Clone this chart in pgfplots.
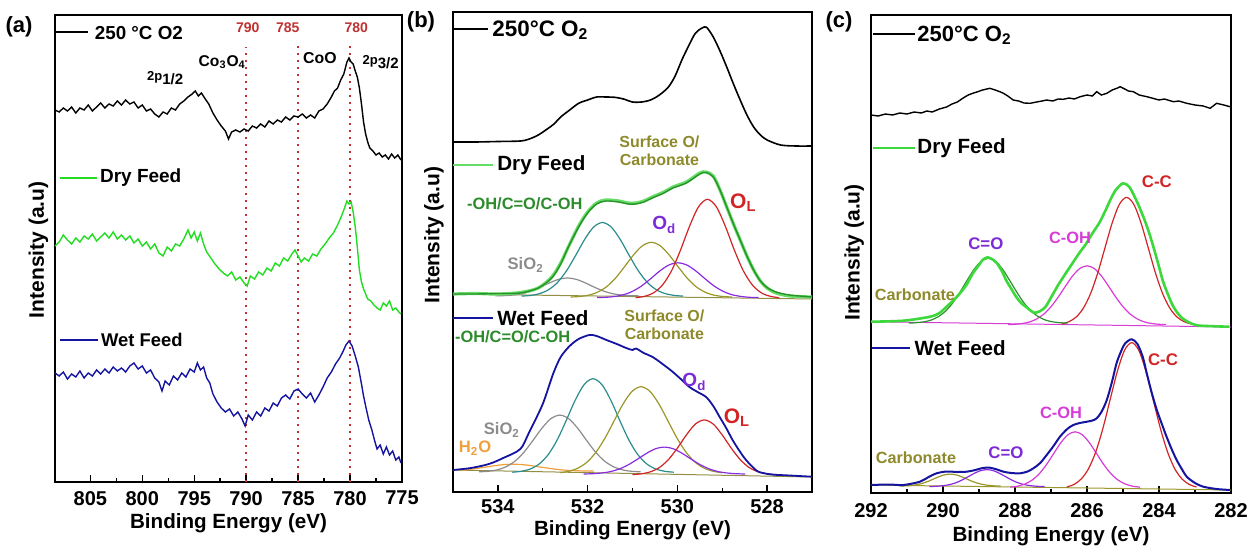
\documentclass[border=0pt]{standalone}
\usepackage{fontspec}
\setmainfont{Liberation Sans}
\usepackage{pgfplots}
\pgfplotsset{compat=1.18}

\definecolor{cgreen}{HTML}{22DD22}
\definecolor{cnavy}{HTML}{1414A0}
\definecolor{cteal}{HTML}{2A8C8C}
\definecolor{colive}{HTML}{9A962A}
\definecolor{cpurple}{HTML}{8A2BE2}
\definecolor{cred}{HTML}{D22424}
\definecolor{cgray}{HTML}{8C8C8C}
\definecolor{corange}{HTML}{EFA03C}
\definecolor{cdkgreen}{HTML}{2A922A}
\definecolor{cltgreen}{HTML}{66DD66}
\definecolor{cmagenta}{HTML}{D63CD6}
\definecolor{cdotred}{HTML}{C03030}
\definecolor{lolive}{HTML}{8E8A2C}
\definecolor{lgreen}{HTML}{2C8C2C}
\definecolor{lpurple}{HTML}{7B2BD8}
\definecolor{cbright}{HTML}{3CD83C}

\newcommand{\fs}[1]{\fontsize{#1}{#1}\selectfont}

\pgfplotsset{
  xps/.style={
    scale only axis, anchor=south west, x dir=reverse, ymin=0,
    ytick=\empty, clip=false, no marks,
    axis line style={line width=0.8pt},
    tick align=inside, xtick pos=left,
    major tick length=3.3pt, minor tick length=2pt, minor x tick num=1,
    every tick/.style={black, line width=0.7pt},
    ticklabel style={font=\bfseries\fs{10}},
    /pgf/number format/assume math mode=true,
    xlabel={Binding Energy (eV)}, ylabel={Intensity (a.u)},
    xlabel style={font=\bfseries\fs{10.3}, anchor=center},
    ylabel style={font=\bfseries\fs{10.5}, anchor=center},
  }
}

\begin{document}
\begin{tikzpicture}
\useasboundingbox (0,0) rectangle (624.5pt,-273pt);

% ---------------- (a) Co 2p ----------------
\begin{axis}[xps, at={(27.5pt,-241pt)}, width=173.5pt, height=233.5pt,
  xmin=775, xmax=808.4, ymax=467, xtick={775,780,...,805},
  xticklabel style={yshift=-1pt},
  xlabel style={at={(axis description cs:0.5,-0.088)}},
  ylabel style={at={(axis description cs:-0.0476,0.497)}}]
\addplot[cdotred, line width=0.9pt, dash pattern=on 0.9pt off 2.6pt] coordinates {(790,0)(790,435)};
\addplot[cdotred, line width=0.9pt, dash pattern=on 0.9pt off 2.6pt] coordinates {(785,0)(785,439)};
\addplot[cdotred, line width=0.9pt, dash pattern=on 0.9pt off 2.6pt] coordinates {(780,0)(780,436)};
\addplot[black, line width=0.7pt] coordinates {
(808.4,372)(808.0,370)(807.6,374)(807.2,371)(806.8,375)(806.4,369)(806.0,374)(805.6,372)(805.2,377)(804.8,371)
(804.4,375)(804.0,379)(803.6,374)(803.2,378)(802.8,376)(802.4,381)(802.0,377)(801.6,382)(801.2,378)(800.8,380)
(800.4,374)(800.0,377)(799.6,371)(799.2,373)(798.8,368)(798.4,365)(798.0,370)(797.6,368)(797.2,374)(796.8,372)
(796.4,378)(796.0,381)(795.6,385)(795.2,388)(794.9,391)(794.6,386)(794.3,389)(794.0,384)(793.6,378)(793.2,369)
(792.8,362)(792.4,356)(792.0,351)(791.7,343)(791.4,350)(791.0,352)(790.6,350)(790.2,353)(789.8,351)(789.4,356)
(789.0,354)(788.6,358)(788.2,355)(787.8,361)(787.4,358)(787.0,362)(786.6,360)(786.2,365)(785.8,362)(785.4,366)
(785.0,365)(784.6,368)(784.2,364)(783.8,367)(783.4,364)(783.0,371)(782.6,373)(782.2,378)(781.8,385)(781.5,391)
(781.2,394)(780.9,402)(780.6,408)(780.3,420)(780.1,424)(779.9,420)(779.7,418)(779.5,411)(779.3,405)(779.1,394)
(778.9,378)(778.7,360)(778.5,348)(778.3,340)(778.1,334)(777.8,331)(777.5,327)(777.2,329)(776.9,325)(776.6,327)
(776.3,323)(776.0,328)(775.7,324)(775.4,327)(775.1,322)};
\addplot[cgreen, line width=0.7pt] coordinates {
(808.4,236)(808.0,240)(807.6,247)(807.2,242)(806.8,238)(806.4,244)(806.0,240)(805.6,246)(805.2,243)(804.8,248)
(804.4,241)(804.0,245)(803.6,249)(803.2,244)(802.8,250)(802.4,243)(802.0,247)(801.6,242)(801.2,246)(800.8,239)
(800.4,243)(800.0,236)(799.6,240)(799.2,233)(798.8,238)(798.4,229)(798.0,226)(797.6,235)(797.2,231)(796.8,238)
(796.4,236)(796.0,243)(795.6,252)(795.3,244)(795.0,250)(794.7,241)(794.4,249)(794.1,238)(793.8,230)(793.4,224)
(793.0,218)(792.6,213)(792.2,209)(791.8,206)(791.4,210)(791.0,202)(790.6,205)(790.2,199)(789.9,196)(789.6,206)
(789.2,203)(788.8,210)(788.4,207)(788.0,214)(787.6,211)(787.2,219)(786.8,216)(786.4,224)(786.0,221)(785.6,228)
(785.3,232)(785.0,226)(784.7,220)(784.4,224)(784.0,221)(783.6,228)(783.2,226)(782.8,233)(782.4,238)(782.0,244)
(781.6,249)(781.2,257)(780.9,264)(780.6,272)(780.3,281)(780.1,278)(779.9,280)(779.7,270)(779.5,255)(779.3,235)
(779.1,212)(778.9,200)(778.7,193)(778.5,188)(778.3,183)(778.0,181)(777.7,177)(777.4,174)(777.1,172)(776.8,179)
(776.5,176)(776.2,181)(775.9,172)(775.6,174)(775.3,170)(775.1,168)};
\addplot[cnavy, line width=0.7pt] coordinates {
(808.4,109)(808.0,106)(807.6,110)(807.2,103)(806.8,108)(806.4,105)(806.0,111)(805.6,104)(805.2,109)(804.8,106)
(804.4,112)(804.0,108)(803.6,113)(803.2,109)(802.8,115)(802.4,111)(802.0,114)(801.6,110)(801.2,116)(800.8,119)
(800.4,113)(800.0,116)(799.6,109)(799.2,112)(798.8,104)(798.4,100)(798.1,91)(797.8,101)(797.4,97)(797.0,106)
(796.6,102)(796.2,109)(795.8,105)(795.4,113)(795.0,110)(794.7,119)(794.4,112)(794.1,115)(793.8,104)(793.5,99)
(793.2,88)(792.8,80)(792.4,74)(792.0,70)(791.6,73)(791.2,66)(790.8,70)(790.4,63)(790.1,56)(789.8,67)
(789.4,62)(789.0,70)(788.6,66)(788.2,74)(787.8,71)(787.4,79)(787.0,76)(786.6,84)(786.2,87)(785.8,83)
(785.4,91)(785.0,93)(784.6,88)(784.2,84)(783.8,89)(783.4,80)(783.0,87)(782.6,95)(782.2,104)(781.8,110)
(781.4,118)(781.0,124)(780.7,130)(780.4,137)(780.1,141)(779.8,136)(779.5,126)(779.2,115)(778.9,98)(778.7,86)
(778.5,76)(778.2,62)(777.9,52)(777.6,40)(777.4,33)(777.1,37)(776.8,28)(776.5,35)(776.2,27)(775.9,31)
(775.6,22)(775.3,25)(775.1,19)};
% legend entries
\draw[black, line width=0.7pt] (axis cs:808.4,450) -- (axis cs:805.2,450);
\node[anchor=west, font=\bfseries\fs{9.4}, inner sep=0pt] at (axis cs:804.6,449) {250 °C O2};
\draw[cgreen, line width=0.7pt] (axis cs:807.9,304) -- (axis cs:804.4,304);
\node[anchor=west, font=\bfseries\fs{9.5}, inner sep=0pt] at (axis cs:804.1,304) {Dry Feed};
\draw[cnavy, line width=0.7pt] (axis cs:807.9,142) -- (axis cs:804.3,142);
\node[anchor=west, font=\bfseries\fs{9.2}, inner sep=0pt] at (axis cs:804.0,142) {Wet Feed};
% annotations
\node[cdotred, font=\bfseries\fs{7}] at (axis cs:789.85,454) {790};
\node[cdotred, font=\bfseries\fs{7}] at (axis cs:786.0,454) {785};
\node[cdotred, font=\bfseries\fs{7}] at (axis cs:779.4,454) {780};
\node[font=\bfseries\fs{7.5}] at (axis cs:797.8,404) {\raisebox{0.3em}{\fs{6.5}2p}1/2};
\node[font=\bfseries\fs{7.8}] at (axis cs:792.3,420) {Co\textsubscript{3}O\textsubscript{4}};
\node[font=\bfseries\fs{7.9}] at (axis cs:782.9,424) {CoO};
\node[font=\bfseries\fs{7.5}] at (axis cs:777.05,420) {\raisebox{0.3em}{\fs{6.5}2p}3/2};
\end{axis}

% ---------------- (b) O 1s ----------------
\begin{axis}[xps, at={(226.5pt,-246pt)}, width=179.5pt, height=240pt,
  xmin=527, xmax=535, ymax=480, xtick={528,530,532,534},
  xticklabel style={yshift=-0.3pt},
  xlabel style={at={(axis description cs:0.5,-0.08)}},
  ylabel style={at={(axis description cs:-0.053,0.535)}}]
% 250 C O2
\addplot[black, line width=0.8pt, smooth] coordinates {
(535.0,350)(534.5,350)(534.0,350.5)(533.5,351)(533.3,353)(533.1,357)(532.9,363)(532.75,368)(532.6,375)(532.4,382)
(532.2,388.7)(532.0,392)(531.8,395)(531.6,395)(531.4,394.7)(531.2,393)(531.0,390)(530.8,390)(530.6,392)(530.4,397)
(530.2,405)(530.05,416)(529.9,432)(529.75,446)(529.6,458.7)(529.45,464)(529.35,464.7)(529.2,455)(529.05,441)(528.9,425)
(528.75,408)(528.6,392)(528.45,377)(528.3,365)(528.15,357)(528.0,352)(527.7,347)(527.35,346)(527.0,346)};
% dry feed
\addplot[colive!70!gray, line width=0.5pt] coordinates {(535,198)(527,193)};
\addplot[cgray, line width=0.6pt, smooth] coordinates {
(530.85,196.1)(531.05,196.4)(531.25,197.0)(531.45,198.4)(531.65,201.0)(531.85,204.8)(532.05,209.1)(532.25,212.6)(532.45,214)
(532.65,212.6)(532.85,209.1)(533.05,204.8)(533.25,201.0)(533.45,198.4)(533.65,197.0)(533.85,196.4)(534.05,196.1)};
\addplot[cteal, line width=0.6pt, smooth] coordinates {
(529.87,195.9)(530.07,196.6)(530.27,198.4)(530.47,202.3)(530.67,209.6)(530.87,221.2)(531.07,236.3)(531.27,252.3)(531.47,264.8)(531.67,269.5)
(531.87,264.8)(532.07,252.3)(532.27,236.3)(532.47,221.2)(532.67,209.6)(532.87,202.3)(533.07,198.4)(533.27,196.6)(533.47,195.9)};
\addplot[colive, line width=0.6pt, smooth] coordinates {
(528.78,195.0)(528.98,195.5)(529.18,196.8)(529.38,199.8)(529.58,205.2)(529.78,213.8)(529.98,225.1)(530.18,236.9)(530.38,246.2)(530.58,249.7)
(530.78,246.2)(530.98,236.9)(531.18,225.1)(531.38,213.8)(531.58,205.2)(531.78,199.8)(531.98,196.8)(532.18,195.5)(532.38,195.0)};
\addplot[cpurple, line width=0.6pt, smooth] coordinates {
(528.19,194.4)(528.39,194.7)(528.59,195.6)(528.79,197.4)(528.99,200.9)(529.19,206.3)(529.39,213.5)(529.59,221.1)(529.79,227.0)(529.99,229.2)
(530.19,227.0)(530.39,221.1)(530.59,213.5)(530.79,206.3)(530.99,200.9)(531.19,197.4)(531.39,195.6)(531.59,194.7)(531.79,194.4)};
\addplot[cred, line width=0.6pt, smooth] coordinates {
(527.73,194.3)(527.93,195.7)(528.13,199.2)(528.33,207.1)(528.53,221.2)(528.73,241.9)(528.93,265.6)(529.13,285.1)(529.33,292.7)
(529.53,285.1)(529.73,265.6)(529.93,241.9)(530.13,221.2)(530.33,207.1)(530.53,199.2)(530.73,195.7)(530.93,194.3)};
\addplot[cltgreen, line width=1.6pt, smooth] coordinates {
(535.0,198)(534.5,198.5)(534.0,198)(533.5,199.5)(533.1,204)(532.8,215)(532.6,229)(532.43,245)(532.2,266)(532.0,280)
(531.8,289)(531.6,292)(531.3,291)(531.1,289)(530.93,289)(530.75,291)(530.56,295)(530.3,300)(530.1,305)(529.8,310)
(529.5,319)(529.36,320)(529.2,316)(529.05,302)(528.9,285)(528.75,268)(528.6,252)(528.45,236)(528.3,222)(528.15,211)
(528.0,204)(527.8,199)(527.5,196)(527.0,195)};
\addplot[cdkgreen, line width=0.7pt, smooth] coordinates {
(535.0,198)(534.5,198)(534.0,198.5)(533.5,199)(533.1,204)(532.8,214)(532.6,228)(532.43,245)(532.2,265)(532.0,279)
(531.8,288)(531.6,291)(531.3,290)(531.1,288)(530.93,288)(530.75,290)(530.56,294)(530.3,299)(530.1,304)(529.8,309)
(529.5,318)(529.36,319.5)(529.2,315)(529.05,302)(528.9,285)(528.75,268)(528.6,252)(528.45,236)(528.3,222)(528.15,211)
(528.0,204.5)(527.8,200)(527.5,197)(527.0,195)};
% wet feed
\addplot[colive!70!gray, line width=0.5pt] coordinates {(535,22)(527,15)};
\addplot[corange, line width=0.6pt, smooth] coordinates {
(531.86,20.9)(532.06,21.0)(532.26,21.3)(532.46,21.7)(532.66,22.5)(532.86,23.7)(533.06,25.0)(533.26,26.4)(533.46,27.4)(533.66,27.8)
(533.86,27.4)(534.06,26.4)(534.26,25.0)(534.46,23.7)(534.66,22.5)(534.86,21.7)};
\addplot[cgray, line width=0.6pt, smooth] coordinates {
(530.82,20.2)(531.02,20.7)(531.22,22.1)(531.42,25.2)(531.62,30.8)(531.82,39.7)(532.02,51.4)(532.22,63.7)(532.42,73.3)(532.62,76.9)
(532.82,73.3)(533.02,63.7)(533.22,51.4)(533.42,39.7)(533.62,30.8)(533.82,25.2)(534.02,22.1)(534.22,20.7)(534.42,20.2)};
\addplot[cteal, line width=0.6pt, smooth] coordinates {
(530.08,19.8)(530.28,20.7)(530.48,23.0)(530.68,28.0)(530.88,37.3)(531.08,51.9)(531.28,71.2)(531.48,91.5)(531.68,107.3)(531.88,113.3)
(532.08,107.3)(532.28,91.5)(532.48,71.2)(532.68,51.9)(532.88,37.3)(533.08,28.0)(533.28,23.0)(533.48,20.7)(533.68,19.8)};
\addplot[colive, line width=0.6pt, smooth] coordinates {
(529.01,19.3)(529.21,20.8)(529.41,24.0)(529.61,30.0)(529.81,40.0)(530.01,54.1)(530.21,71.1)(530.41,88.0)(530.61,100.6)(530.81,105.3)
(531.01,100.6)(531.21,88.0)(531.41,71.1)(531.61,54.1)(531.81,40.0)(532.01,30.0)(532.21,24.0)(532.41,20.8)(532.61,19.3)};
\addplot[cpurple, line width=0.6pt, smooth] coordinates {
(528.49,18.0)(528.69,18.3)(528.89,19.0)(529.09,20.4)(529.29,23.1)(529.49,27.3)(529.69,32.8)(529.89,38.6)(530.09,43.2)(530.29,44.9)
(530.49,43.2)(530.69,38.6)(530.89,32.8)(531.09,27.3)(531.29,23.1)(531.49,20.4)(531.69,19.0)(531.89,18.3)(532.09,18.0)};
\addplot[cred, line width=0.6pt, smooth] coordinates {
(527.8,17.4)(528.0,18.2)(528.2,20.2)(528.4,24.5)(528.6,32.4)(528.8,43.9)(529.0,57.0)(529.2,67.9)(529.4,72.1)
(529.6,67.9)(529.8,57.0)(530.0,43.9)(530.2,32.4)(530.4,24.5)(530.6,20.2)(530.8,18.2)(531.0,17.4)};
\addplot[cnavy, line width=0.9pt, smooth] coordinates {
(535.0,22)(534.6,24)(534.2,28)(533.88,34)(533.5,43)(533.3,60)(533.0,88)(532.77,118)(532.6,135)(532.4,146)
(532.2,153)(531.96,157)(531.8,156)(531.58,152)(531.35,148)(531.14,144)(531.0,142)(530.92,143.5)(530.75,139)(530.55,135)
(530.3,127)(530.1,120)(529.9,112)(529.73,105)(529.55,100)(529.36,95)(529.2,86)(529.07,76)(528.9,63)(528.77,52)
(528.6,40)(528.47,32)(528.3,24)(528.18,20)(527.9,17.5)(527.58,16.7)(527.0,15.3)};
% legend entries
\draw[black, line width=0.8pt] (axis cs:535,463) -- (axis cs:534.22,463);
\node[anchor=west, font=\bfseries\fs{11.2}, inner sep=0pt] at (axis cs:534.13,462) {250°C O\textsubscript{2}};
\draw[cltgreen, line width=1.2pt] (axis cs:535,327) -- (axis cs:534.11,327);
\node[anchor=west, font=\bfseries\fs{10.3}, inner sep=0pt] at (axis cs:534.02,327) {Dry Feed};
\draw[cnavy, line width=0.9pt] (axis cs:535,174) -- (axis cs:534.11,174);
\node[anchor=west, font=\bfseries\fs{10.3}, inner sep=0pt] at (axis cs:534.02,174) {Wet Feed};
% annotations dry
\node[lolive, font=\bfseries\fs{8}, align=center, inner sep=0pt] at (axis cs:530.4,341) {Surface O/\\[1pt]Carbonate};
\node[lgreen, font=\bfseries\fs{8.2}] at (axis cs:533.4,288) {-OH/C=O/C-OH};
\node[lpurple, font=\bfseries\fs{9.5}] at (axis cs:530.29,267) {O\textsubscript{d}};
\node[cred, font=\bfseries\fs{10.5}] at (axis cs:528.53,289) {O\textsubscript{L}};
\node[cgray, font=\bfseries\fs{8.3}] at (axis cs:533.38,227) {SiO\textsubscript{2}};
% annotations wet
\node[lgreen, font=\bfseries\fs{8.2}] at (axis cs:533.67,155) {-OH/C=O/C-OH};
\node[lolive, font=\bfseries\fs{8}, align=center, inner sep=0pt] at (axis cs:530.29,167) {Surface O/\\[1pt]Carbonate};
\node[lpurple, font=\bfseries\fs{9.5}] at (axis cs:529.62,110) {O\textsubscript{d}};
\node[cred, font=\bfseries\fs{10.5}] at (axis cs:528.67,74) {O\textsubscript{L}};
\node[cgray, font=\bfseries\fs{8.3}] at (axis cs:533.91,62) {SiO\textsubscript{2}};
\node[corange, font=\bfseries\fs{8.3}] at (axis cs:534.51,44) {H\textsubscript{2}O};
\end{axis}

% ---------------- (c) C 1s ----------------
\begin{axis}[xps, at={(435.5pt,-246.5pt)}, width=180pt, height=239pt,
  xmin=282, xmax=292, ymax=478, xtick={282,284,...,292},
  xticklabel style={yshift=-1.5pt},
  xlabel style={at={(axis description cs:0.5,-0.09)}},
  ylabel style={at={(axis description cs:-0.047,0.503)}}]
\addplot[black, line width=0.7pt] coordinates {
(292.0,378)(291.8,377)(291.6,379)(291.4,378)(291.2,380)(291.0,379)(290.8,381)(290.6,380)(290.45,382)(290.3,381)
(290.1,384)(289.9,386)(289.75,389)(289.6,391)(289.44,395)(289.3,398)(289.15,400)(289.06,401)(288.9,403)(288.7,404.7)
(288.55,403)(288.4,401)(288.32,399.7)(288.2,397)(288.05,393)(287.9,392)(287.75,390)(287.58,389.7)(287.4,391)(287.25,392)
(287.12,393)(286.95,392)(286.8,394)(286.66,393.7)(286.5,395)(286.35,394)(286.19,396.3)(286.0,398)(285.85,397)(285.73,401.3)
(285.6,398)(285.45,399.7)(285.3,403)(285.15,405)(285.08,406.3)(284.95,404)(284.85,402)(284.71,401.3)(284.55,398)(284.34,396.3)
(284.2,395)(284.0,393)(283.85,394)(283.6,391.3)(283.45,392)(283.23,389.7)(283.0,388)(282.77,387)(282.58,384.7)(282.4,389.7)
(282.2,388)(282.03,386.3)};
% dry feed
\addplot[cmagenta, line width=0.5pt] coordinates {(292,171.3)(282,166)};
\addplot[cmagenta, line width=0.6pt, smooth] coordinates {
(283.8,168.4)(284.0,168.7)(284.2,169.5)(284.4,171.0)(284.6,174.0)(284.8,178.9)(285.0,186.3)(285.2,195.9)(285.4,206.7)(285.6,217.1)
(285.8,224.5)(286.0,227.2)(286.2,224.5)(286.4,217.1)(286.6,206.7)(286.8,195.9)(287.0,186.3)(287.2,178.9)(287.4,174.0)(287.6,171.0)
(287.8,169.5)(288.0,168.7)(288.2,168.4)};
\addplot[cred, line width=0.6pt, smooth] coordinates {
(283.1,169.0)(283.3,171.3)(283.5,176.0)(283.7,184.9)(283.9,199.5)(284.1,220.2)(284.3,245.3)(284.5,270.1)(284.7,288.7)(284.9,295.6)
(285.1,288.7)(285.3,270.1)(285.5,245.3)(285.7,220.2)(285.9,199.5)(286.1,184.9)(286.3,176.0)(286.5,171.3)(286.7,169.0)};
\addplot[cdkgreen, line width=0.6pt, smooth] coordinates {
(286.54,169.9)(286.74,170.3)(286.94,171.1)(287.14,172.8)(287.34,176.1)(287.54,181.5)(287.74,189.6)(287.94,200.2)(288.14,212.1)(288.34,223.5)
(288.54,231.7)(288.74,234.7)(288.94,231.7)(289.14,223.5)(289.34,212.1)(289.54,200.2)(289.74,189.6)(289.94,181.5)(290.14,176.1)(290.34,172.8)
(290.54,171.1)(290.74,170.3)(290.94,169.9)};
\addplot[cbright, line width=1.3pt, smooth] coordinates {
(292.0,171.3)(291.1,172.3)(290.36,176.3)(290.1,180)(289.9,186.3)(289.7,193)(289.53,199.7)(289.35,208)(289.17,219.7)(289.0,228)
(288.9,233)(288.76,235.7)(288.6,233)(288.5,229.7)(288.35,221)(288.25,213)(288.1,204)(287.97,196.3)(287.83,190)(287.7,186.3)
(287.47,180.3)(287.3,182)(287.15,186.3)(286.96,198)(286.8,208)(286.59,219.7)(286.4,230)(286.22,239.7)(286.03,249)(285.85,259.7)
(285.66,270)(285.48,283)(285.34,294)(285.2,303)(285.0,309.7)(284.83,306.3)(284.7,298)(284.55,286.3)(284.4,273)(284.27,259.7)
(284.13,243)(284.0,226.3)(283.9,213)(283.8,203)(283.6,186.3)(283.35,174.7)(282.98,168)(282.5,166.8)(282.05,166.3)};
% wet feed
\addplot[colive, line width=0.5pt] coordinates {(292,8)(282,3)};
\addplot[colive, line width=0.6pt, smooth] coordinates {
(288.4,7.0)(288.6,7.2)(288.8,7.9)(289.0,9.4)(289.2,11.8)(289.4,15.0)(289.6,17.8)(289.8,18.9)(290.0,17.8)(290.2,15.0)
(290.4,11.8)(290.6,9.4)(290.8,7.9)(291.0,7.2)(291.2,7.0)};
\addplot[cpurple, line width=0.6pt, smooth] coordinates {
(287.18,6.5)(287.38,6.7)(287.58,7.4)(287.78,8.7)(287.98,11.1)(288.18,14.7)(288.38,18.7)(288.58,22.1)(288.78,23.4)(288.98,22.1)
(289.18,18.7)(289.38,14.7)(289.58,11.1)(289.78,8.7)(289.98,7.4)(290.18,6.7)(290.38,6.5)};
\addplot[cmagenta, line width=0.6pt, smooth] coordinates {
(284.53,5.8)(284.73,6.8)(284.93,8.9)(285.13,12.8)(285.33,19.1)(285.53,28.2)(285.73,39.2)(285.93,50.1)(286.13,58.2)(286.33,61.2)
(286.53,58.2)(286.73,50.1)(286.93,39.2)(287.13,28.2)(287.33,19.1)(287.53,12.8)(287.73,8.9)(287.93,6.8)(288.13,5.8)};
\addplot[cred, line width=0.6pt, smooth] coordinates {
(282.96,6.0)(283.16,8.6)(283.36,14.0)(283.56,24.1)(283.76,40.8)(283.96,64.4)(284.16,93.0)(284.36,121.3)(284.56,142.5)(284.76,150.4)
(284.96,142.5)(285.16,121.3)(285.36,93.0)(285.56,64.4)(285.76,40.8)(285.96,24.1)(286.16,14.0)(286.36,8.6)(286.56,6.0)};
\addplot[cnavy, line width=1.0pt, smooth] coordinates {
(292.0,8)(291.5,8.5)(291.1,8)(290.64,11.3)(290.4,16)(290.18,19.7)(289.9,21.5)(289.6,21)(289.34,21.3)(289.1,23)
(288.9,25)(288.7,25.3)(288.5,23.5)(288.32,21.3)(288.1,20)(287.86,19.7)(287.65,21.5)(287.49,24.7)(287.3,30)(287.12,38)
(286.95,46)(286.75,56.3)(286.55,64)(286.38,68)(286.2,70)(286.0,71.3)(285.85,72.5)(285.73,74.7)(285.6,81)(285.45,93)
(285.3,112)(285.18,129.7)(285.05,142)(284.94,149.7)(284.76,153.7)(284.6,149)(284.45,136)(284.34,119.7)(284.2,100)(284.06,83)
(283.9,67)(283.79,56.3)(283.65,44)(283.51,33)(283.35,23)(283.23,16.3)(283.0,10)(282.77,6.3)(282.4,4)(282.03,3)};
% legend entries
\draw[black, line width=0.8pt] (axis cs:291.94,459) -- (axis cs:290.78,459);
\node[anchor=west, font=\bfseries\fs{11}, inner sep=0pt] at (axis cs:290.72,458) {250°C O\textsubscript{2}};
\draw[cbright, line width=1.0pt] (axis cs:291.94,345) -- (axis cs:290.78,345);
\node[anchor=west, font=\bfseries\fs{10.3}, inner sep=0pt] at (axis cs:290.72,345) {Dry Feed};
\draw[cnavy, line width=0.9pt] (axis cs:291.97,145) -- (axis cs:290.92,145);
\node[anchor=west, font=\bfseries\fs{10.3}, inner sep=0pt] at (axis cs:290.8,145) {Wet Feed};
% annotations
\node[cred, font=\bfseries\fs{8.4}] at (axis cs:284.06,311) {C-C};
\node[lpurple, font=\bfseries\fs{8.4}] at (axis cs:288.81,249) {C=O};
\node[cmagenta, font=\bfseries\fs{8.2}] at (axis cs:286.47,255) {C-OH};
\node[lolive, font=\bfseries\fs{8.1}] at (axis cs:290.78,198) {Carbonate};
\node[cred, font=\bfseries\fs{8.4}] at (axis cs:283.89,133) {C-C};
\node[cmagenta, font=\bfseries\fs{8.2}] at (axis cs:286.72,80) {C-OH};
\node[lpurple, font=\bfseries\fs{8.4}] at (axis cs:288.25,40) {C=O};
\node[lolive, font=\bfseries\fs{8.1}] at (axis cs:290.75,35) {Carbonate};
\end{axis}

\node[font=\bfseries\fs{11}] at (9.5pt,-13.5pt) {(a)};
\node[font=\bfseries\fs{11}] at (210.5pt,-11pt) {(b)};
\node[font=\bfseries\fs{11}] at (419.5pt,-11pt) {(c)};
\end{tikzpicture}
\end{document}
